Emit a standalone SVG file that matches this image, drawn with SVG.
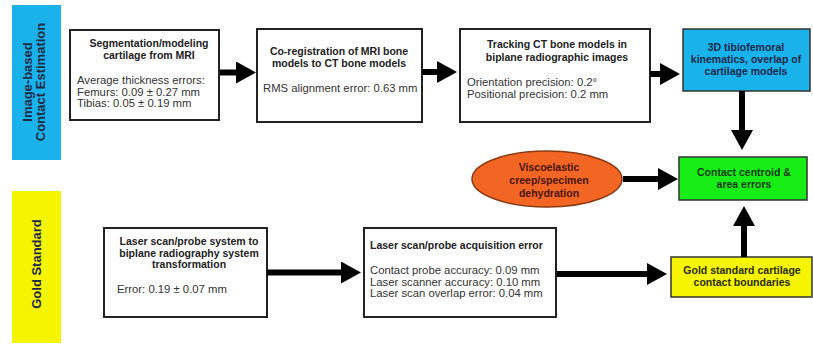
<svg xmlns="http://www.w3.org/2000/svg" width="813" height="347" viewBox="0 0 813 347">
<style>
text{font-family:"Liberation Sans",Arial,Helvetica,sans-serif;}
.box{fill:#fff;stroke:#222;stroke-width:2;}
.t{font-size:10.5px;font-weight:bold;fill:#222;text-anchor:middle;}
.n{font-size:11.3px;fill:#333;}
.side{font-size:13px;font-weight:bold;fill:#1d2b45;text-anchor:middle;}
.conn{stroke:#000;stroke-width:6;fill:none;marker-end:url(#ah);}
</style>
<defs>
<marker id="ah" viewBox="0 0 20 22" refX="0" refY="11" markerWidth="20" markerHeight="22" markerUnits="userSpaceOnUse" orient="auto">
<path d="M0,0 L20,11 L0,22 Z" fill="#000"/>
</marker>
</defs>
<rect width="813" height="347" fill="#fff"/>

<g id="label-image">
<rect x="12" y="5" width="49" height="155" fill="#1ab2ea"/>
<text class="side" transform="translate(32,82) rotate(-90)">Image-based</text>
<text class="side" transform="translate(45,82) rotate(-90)">Contact Estimation</text>
</g>
<g id="label-gold">
<rect x="12" y="191" width="49" height="152" fill="#f5f500"/>
<text class="side" transform="translate(41,264) rotate(-90)">Gold Standard</text>
</g>

<g id="seg">
<rect class="box" x="70" y="30" width="149" height="90"/>
<text class="t" x="149" y="47">Segmentation/modeling</text>
<text class="t" x="149" y="59">cartilage from MRI</text>
<text class="n" x="77" y="84">Average thickness errors:</text>
<text class="n" x="77" y="95.5">Femurs: 0.09 ± 0.27 mm</text>
<text class="n" x="77" y="107">Tibias: 0.05 ± 0.19 mm</text>
</g>
<g id="coreg">
<rect class="box" x="257" y="29" width="165" height="93"/>
<text class="t" x="339" y="55">Co-registration of MRI bone</text>
<text class="t" x="339" y="67">models to CT bone models</text>
<text class="n" x="263" y="92">RMS alignment error: 0.63 mm</text>
</g>
<g id="track">
<rect class="box" x="460" y="29" width="190" height="93"/>
<text class="t" x="557" y="48">Tracking CT bone models in</text>
<text class="t" x="557" y="61">biplane radiographic images</text>
<text class="n" x="467" y="86">Orientation precision: 0.2°</text>
<text class="n" x="467" y="98">Positional precision: 0.2 mm</text>
</g>
<g id="kin">
<rect x="683" y="29" width="127" height="62" fill="#1ab2ea" stroke="#333" stroke-width="1.5"/>
<text class="t" x="746" y="51" style="fill:#14284b">3D tibiofemoral</text>
<text class="t" x="746" y="63" style="fill:#14284b">kinematics, overlap of</text>
<text class="t" x="746" y="75" style="fill:#14284b">cartilage models</text>
</g>
<g id="visco">
<ellipse cx="547" cy="179" rx="75" ry="28" fill="#f26522" stroke="#8a3a12" stroke-width="1.5"/>
<text class="t" x="549" y="171" style="fill:#4a1608">Viscoelastic</text>
<text class="t" x="549" y="184" style="fill:#4a1608">creep/specimen</text>
<text class="t" x="549" y="197" style="fill:#4a1608">dehydration</text>
</g>
<g id="contact">
<rect x="679" y="157" width="128" height="43" fill="#16ee16" stroke="#333" stroke-width="1.5"/>
<text class="t" x="744" y="176" style="fill:#0c3a0c">Contact centroid &amp;</text>
<text class="t" x="744" y="188" style="fill:#0c3a0c">area errors</text>
</g>
<g id="laser-transform">
<rect class="box" x="104" y="228" width="163" height="89"/>
<text class="t" x="189" y="245">Laser scan/probe system to</text>
<text class="t" x="189" y="256.5">biplane radiography system</text>
<text class="t" x="189" y="268">transformation</text>
<text class="n" x="117" y="293">Error: 0.19 ± 0.07 mm</text>
</g>
<g id="laser-acq">
<rect class="box" x="364" y="228" width="192" height="89"/>
<text class="t" x="370" y="249" style="text-anchor:start">Laser scan/probe acquisition error</text>
<text class="n" x="370" y="274">Contact probe accuracy: 0.09 mm</text>
<text class="n" x="370" y="285.5">Laser scanner accuracy: 0.10 mm</text>
<text class="n" x="370" y="297">Laser scan overlap error: 0.04 mm</text>
</g>
<g id="gold">
<rect x="671" y="257" width="141" height="40" fill="#f5f500" stroke="#333" stroke-width="1.5"/>
<text class="t" x="742" y="274" style="fill:#2a2a08">Gold standard cartilage</text>
<text class="t" x="742" y="286" style="fill:#2a2a08">contact boundaries</text>
</g>

<g id="connectors">
<line class="conn" x1="220" y1="72.5" x2="236" y2="72.5"/>
<line class="conn" x1="422" y1="72" x2="437" y2="72"/>
<line class="conn" x1="650" y1="74" x2="660" y2="74"/>
<line class="conn" x1="742" y1="91" x2="742" y2="130"/>
<line class="conn" x1="623" y1="179" x2="658" y2="179"/>
<line class="conn" x1="744" y1="257" x2="744" y2="226"/>
<line class="conn" x1="267" y1="272.5" x2="341" y2="272.5"/>
<line class="conn" x1="557" y1="274" x2="647" y2="274"/>
</g>
</svg>
